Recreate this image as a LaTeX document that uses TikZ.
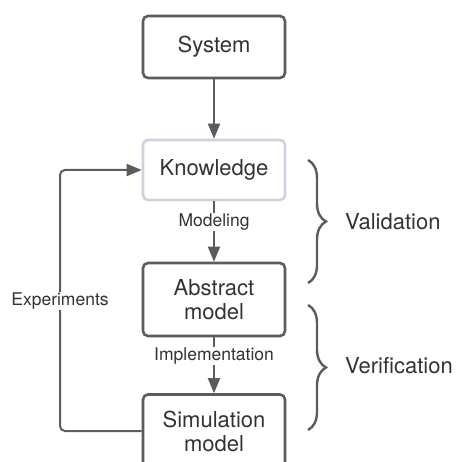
\documentclass[tikz,border=0pt]{standalone}
\usepackage{fontspec}
\setmainfont{TeX Gyre Heros}
\usetikzlibrary{arrows.meta,positioning,decorations.pathreplacing}
\definecolor{linegray}{HTML}{5C5C5C}
\definecolor{lightframe}{HTML}{CBD3DC}
\definecolor{textgray}{HTML}{333333}

\begin{document}
\begin{tikzpicture}[x=1pt,y=-1pt]
  \tikzstyle{block}=[rectangle, draw=linegray, line width=2.6pt, rounded corners=5pt, minimum width=142pt, font=\fontsize{22}{24}\selectfont, align=center, text=textgray, inner sep=0pt]
  \tikzstyle{flow}=[draw=linegray, line width=2pt, -{Triangle[length=15pt,width=12pt]}]
  \tikzstyle{tag}=[fill=white, inner sep=1pt, font=\fontsize{17.5}{20}\selectfont, text=textgray]
  \tikzstyle{bracket}=[draw=linegray, line width=2.4pt, decorate, decoration={brace, amplitude=18pt}]
  \tikzstyle{phase}=[anchor=west, inner sep=0pt, font=\fontsize{22}{24}\selectfont, text=textgray]

  \useasboundingbox (0,0) rectangle (456,462);
  \clip (0,0) rectangle (456,462);

  \node[block, minimum height=62pt] (sys) at (214,47) {System};
  \node[block, minimum height=60pt, draw=lightframe] (know) at (214,170) {Knowledge};
  \node[block, minimum height=73pt] (abs) at (214,299.5) {Abstract\\model};
  \node[block, minimum height=73pt] (sim) at (214,431) {Simulation\\model};

  \draw[flow] (sys) -- (know);
  \draw[flow] (know) -- (abs);
  \node[tag] (modlab) at (214,222) {Modeling};
  \draw[flow] (abs) -- (sim);
  \node[tag] (implab) at (214,356) {Implementation};

  % Experiments loop
  \coordinate (turn) at (60,170);
  \draw[flow, rounded corners=5pt] (sim.west) -| (turn) -- (know.west);
  \node[tag] (explab) at (60,301) {Experiments};

  % braces
  \coordinate (valtop) at (308,160);
  \coordinate (valbot) at (308,283);
  \coordinate (vertop) at (308,305);
  \coordinate (verbot) at (308,430);
  \draw[bracket] (valtop) -- (valbot);
  \draw[bracket] (vertop) -- (verbot);
  \node[phase] (val) at (345,222) {Validation};
  \node[phase] (ver) at (345,366) {Verification};
\end{tikzpicture}
\end{document}
